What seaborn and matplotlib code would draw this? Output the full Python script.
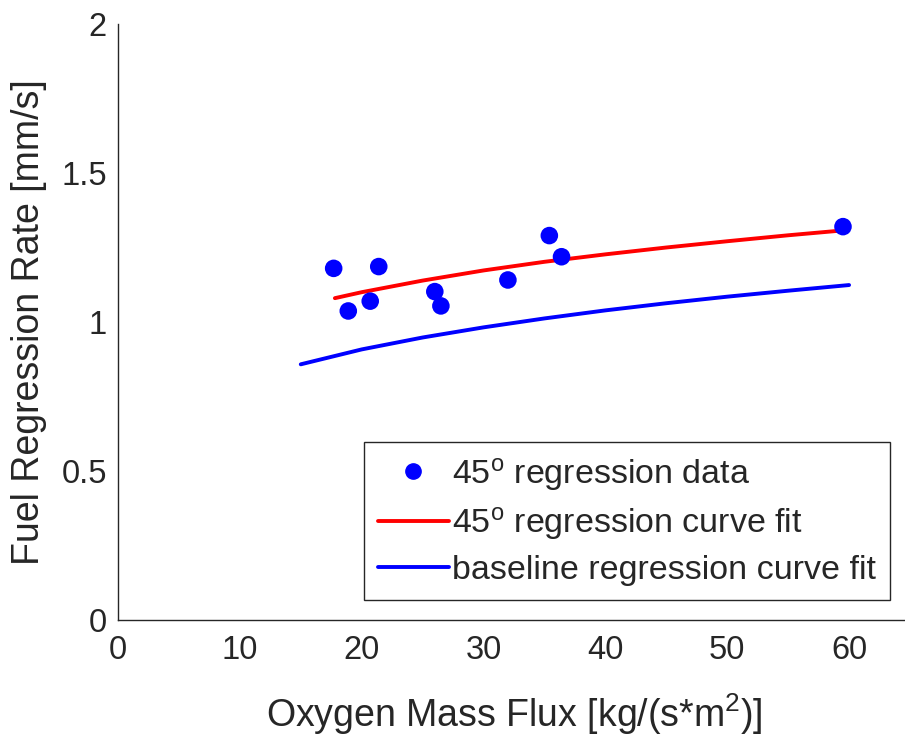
import matplotlib
matplotlib.use("Agg")
import matplotlib.pyplot as plt
import seaborn as sns
import pandas as pd
from matplotlib.lines import Line2D
from matplotlib.ticker import FuncFormatter

# measured 45 degree regression data
flux_45 = [17.7, 18.9, 20.7, 21.4, 26.0, 26.5, 32.0, 35.4, 36.4, 59.5]
rate_45 = [1.180, 1.037, 1.070, 1.186, 1.102, 1.054, 1.141, 1.290, 1.219, 1.320]

# curve fit traces
fit45_flux = [17.8, 20, 25, 30, 35, 40, 45, 50, 55, 59.4]
fit45_rate = [1.080, 1.100, 1.139, 1.173, 1.202, 1.227, 1.250, 1.271, 1.291, 1.307]

base_flux = [15, 20, 25, 30, 35, 40, 45, 50, 55, 60]
base_rate = [0.858, 0.908, 0.948, 0.982, 1.012, 1.039, 1.063, 1.085, 1.105, 1.124]

x_ticks = [0, 10, 20, 30, 40, 50, 60]
y_ticks = [0, 0.5, 1, 1.5, 2]

labels = ['45$^{\\mathrm{o}}$ regression data',
          '45$^{\\mathrm{o}}$ regression curve fit',
          'baseline regression curve fit']


def setup_plot_style():
    sns.set_style("white")
    plt.rcParams['font.family'] = ['Liberation Sans', 'DejaVu Sans']
    plt.rcParams.update({
        'mathtext.fontset': 'custom',
        'mathtext.rm': 'Liberation Sans',
        'mathtext.it': 'Liberation Sans:italic',
        'mathtext.bf': 'Liberation Sans:bold',
    })


def create_plot():
    setup_plot_style()
    fig = plt.figure(figsize=(9.05, 7.44), dpi=100)
    ax = fig.add_axes([118 / 905, 124 / 744, 792 / 905, 596 / 744])

    pts = pd.DataFrame({'flux': flux_45, 'rate': rate_45})
    fit45 = pd.DataFrame({'flux': fit45_flux, 'rate': fit45_rate})
    base = pd.DataFrame({'flux': base_flux, 'rate': base_rate})

    sns.lineplot(data=fit45, x='flux', y='rate', color='#ff0000',
                 linewidth=2.8, ax=ax)
    sns.lineplot(data=base, x='flux', y='rate', color='#0000ff',
                 linewidth=2.8, ax=ax)
    sns.scatterplot(data=pts, x='flux', y='rate', color='#0000ff', s=160,
                    edgecolor='none', ax=ax, zorder=3)

    ax.set_xlim(0, 65)
    ax.set_ylim(0, 2)
    ax.set_xticks(x_ticks)
    ax.set_yticks(y_ticks)
    ax.yaxis.set_major_formatter(FuncFormatter(lambda v, p: f"{v:g}"))

    for side in ['top', 'right']:
        ax.spines[side].set_visible(False)
    for side in ['left', 'bottom']:
        ax.spines[side].set_color('#262626')
        ax.spines[side].set_linewidth(1.0)
    ax.tick_params(direction='in', length=5, width=1, colors='#262626',
                   labelsize=23.5, pad=8)
    ax.tick_params(axis='x', pad=11)

    ax.set_xlabel('Oxygen Mass Flux [kg/(s*m$^{2}$)]', fontsize=27,
                  color='#262626', labelpad=18)
    ax.set_ylabel('Fuel Regression Rate [mm/s]', fontsize=27,
                  color='#262626', labelpad=10)

    # legend handles drawn to match the MATLAB-style box
    handles = [
        Line2D([], [], linestyle='none', marker='o', markersize=11,
               color='#0000ff'),
        Line2D([], [], color='#ff0000', linewidth=2.8),
        Line2D([], [], color='#0000ff', linewidth=2.8),
    ]
    leg = ax.legend(handles, labels, loc='lower right',
                    bbox_to_anchor=(890 / 905, 144 / 744),
                    bbox_transform=fig.transFigure, fontsize=24.5,
                    frameon=True, fancybox=False, framealpha=1,
                    edgecolor='#262626', handlelength=2.1,
                    handletextpad=0.1, borderpad=0.4, labelspacing=0.38,
                    borderaxespad=0)
    leg.get_frame().set_linewidth(1.0)
    for t in leg.get_texts():
        t.set_color('#262626')

    fig.savefig('out.png', dpi=100)
    plt.close(fig)


if __name__ == "__main__":
    create_plot()
